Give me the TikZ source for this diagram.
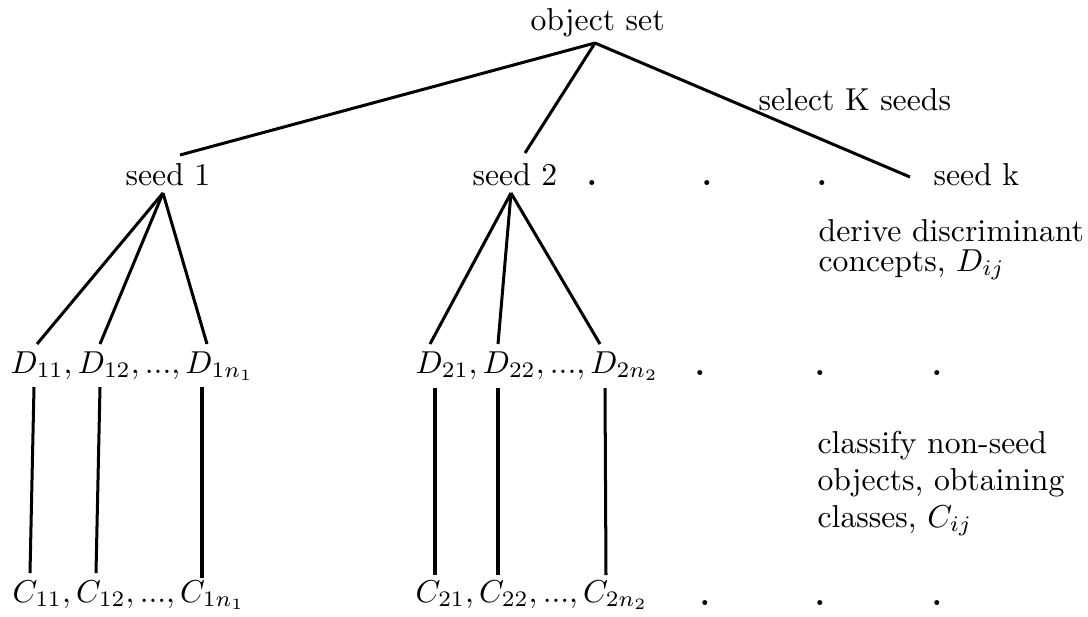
\documentclass[tikz,border=0pt]{standalone}
\begin{document}
\begin{tikzpicture}[x=0.3155pt,y=-0.3155pt,
  lbl/.style={inner sep=0pt,anchor=base west},
  dotlbl/.style={inner sep=0pt,anchor=base,font=\bfseries},
  edge/.style={line width=0.95pt}]
\useasboundingbox (0,0) rectangle (1088,616);
% text
\node[lbl] (obj) at (530,30) {object set};
\node[lbl] (sel) at (758,110) {select K seeds};
\node[lbl] (s1) at (125,185) {seed 1};
\node[lbl] (s2) at (472,185) {seed 2};
\node[lbl] (sk) at (933,185) {seed k};
\node[dotlbl] (sd1) at (592,185) {.};
\node[dotlbl] (sd2) at (707,185) {.};
\node[dotlbl] (sd3) at (822,185) {.};
\node[lbl] (der1) at (818,241) {derive discriminant};
\node[lbl] (der2) at (818,271) {concepts, $D_{ij}$};
\node[lbl] (D1) at (10,373) {$D_{11}, D_{12}, ..., D_{1n_1}$};
\node[lbl] (D2) at (415,373) {$D_{21}, D_{22}, ..., D_{2n_2}$};
\node[dotlbl] (dd1) at (700,375) {.};
\node[dotlbl] (dd2) at (820,375) {.};
\node[dotlbl] (dd3) at (937,375) {.};
\node[lbl] (cl1) at (817,453) {classify non-seed};
\node[lbl] (cl2) at (817,490) {objects, obtaining};
\node[lbl] (cl3) at (817,527) {classes, $C_{ij}$};
\node[lbl] (C1) at (12,602) {$C_{11}, C_{12}, ..., C_{1n_1}$};
\node[lbl] (C2) at (415,602) {$C_{21}, C_{22}, ..., C_{2n_2}$};
\node[dotlbl] (cd1) at (705,605) {.};
\node[dotlbl] (cd2) at (820,605) {.};
\node[dotlbl] (cd3) at (937,605) {.};
% connector end points
\coordinate (objB) at (595,43);
\coordinate (s1T) at (180,155);
\coordinate (s2T) at (525,153);
\coordinate (skT) at (910,177);
\coordinate (s1B) at (163,193);
\coordinate (s2B) at (511,193);
\coordinate (d11T) at (37,344);
\coordinate (d12T) at (100,344);
\coordinate (d1nT) at (207,344);
\coordinate (d21T) at (430,344);
\coordinate (d22T) at (498,344);
\coordinate (d2nT) at (600,344);
\coordinate (d11B) at (34,387);
\coordinate (d12B) at (100,387);
\coordinate (d1nB) at (202,387);
\coordinate (d21B) at (435,388);
\coordinate (d22B) at (498,388);
\coordinate (d2nB) at (605,388);
\coordinate (c11T) at (30,573);
\coordinate (c12T) at (96,573);
\coordinate (c1nT) at (202,578);
\coordinate (c21T) at (435,575);
\coordinate (c22T) at (498,575);
\coordinate (c2nT) at (606,575);
% connectors
\draw[edge] (objB) -- (s1T);
\draw[edge] (objB) -- (s2T);
\draw[edge] (objB) -- (skT);
\draw[edge] (s1B) -- (d11T);
\draw[edge] (s1B) -- (d12T);
\draw[edge] (s1B) -- (d1nT);
\draw[edge] (s2B) -- (d21T);
\draw[edge] (s2B) -- (d22T);
\draw[edge] (s2B) -- (d2nT);
\draw[edge] (d11B) -- (c11T);
\draw[edge] (d12B) -- (c12T);
\draw[edge] (d1nB) -- (c1nT);
\draw[edge] (d21B) -- (c21T);
\draw[edge] (d22B) -- (c22T);
\draw[edge] (d2nB) -- (c2nT);
\end{tikzpicture}
\end{document}
